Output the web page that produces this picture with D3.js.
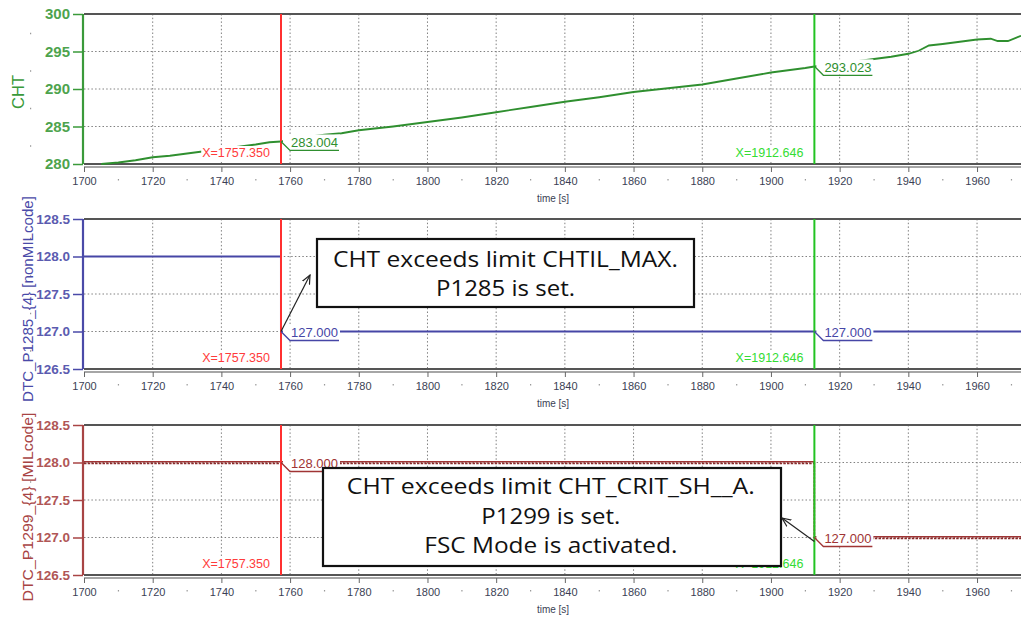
<!DOCTYPE html>
<html><head><meta charset="utf-8">
<script src="https://cdn.jsdelivr.net/npm/d3@7"></script>
<style>
html,body{margin:0;padding:0;background:#fff;}
svg{display:block;}
</style></head>
<body>
<svg id="chart" width="1021" height="619"></svg>
<script>
// ---------- data ----------
const xTicks = [1700,1720,1740,1760,1780,1800,1820,1840,1860,1880,1900,1920,1940,1960];
const chtTicks = [280,285,290,295,300];
const dtcTicks = [126.5,127.0,127.5,128.0,128.5];
const chtTime  = [1705,1710,1715,1720,1725,1730,1735,1740,1745,1750,1754,1757.35,1760,1765,1770,1775,1780,1790,1800,1810,1820,1830,1840,1850,1860,1870,1880,1890,1900,1910,1912.646,1920,1930,1935,1940,1943,1946,1950,1955,1960,1964,1966,1969,1972.8];
const chtValue = [280.0,280.2,280.5,280.9,281.1,281.4,281.7,282.0,282.3,282.6,282.9,283.0,283.3,283.6,283.9,284.1,284.5,285.0,285.6,286.2,286.9,287.6,288.3,288.9,289.6,290.1,290.6,291.4,292.2,292.8,293.0,293.4,294.0,294.3,294.7,295.1,295.8,296.0,296.3,296.6,296.7,296.4,296.4,297.1];
const p1285Time  = [1700,1757.35,1972.8];
const p1285Value = [128,127,127];
const p1299Time  = [1700,1912.646,1972.8];
const p1299Value = [128,127,127];
const cursorTimes  = [1757.350,1912.646];
const cursorLabels = ["X=1757.350","X=1912.646"];
const chtCursorVals   = [283.004,293.023];
const p1285CursorVals = [127.000,127.000];
const p1299CursorVals = [128.000,127.000];
const note1 = ["CHT exceeds limit CHTIL_MAX.","P1285 is set."];
const note2 = ["CHT exceeds limit CHT_CRIT_SH__A.","P1299 is set.","FSC Mode is activated."];

// ---------- layout ----------
const svg = d3.select("#chart");
const W = 1021;
const x = d3.scaleLinear().domain([1700,1972.8]).range([84,W]);
const cursorColors = ["#ff3030","#22c322"];
const cursorTextColors = ["#ff3b3b","#33dd33"];

const panels = [
  {top:14, bottom:164, domain:[280,300], ticks:chtTicks, fmt:d3.format("d"), color:"#3a9a3a", lineColor:"#2f8f2f",
   label:"CHT", labelColor:"#3a9a3a", labelX:24, labelY:92, labelFont:16.5, labelLen:null, tickFont:15,
   time:chtTime, val:chtValue, curve:d3.curveLinear, cvals:chtCursorVals},
  {top:219, bottom:369, domain:[126.5,128.5], ticks:dtcTicks, fmt:d3.format(".1f"), color:"#4a4aa8", lineColor:"#4646a6",
   label:"DTC_P1285_{4} [nonMILcode]", labelColor:"#4a4aa8", labelX:33, labelY:299, labelFont:14, labelLen:206, tickFont:13.5,
   time:p1285Time, val:p1285Value, curve:d3.curveStepAfter, cvals:p1285CursorVals},
  {top:425, bottom:575, domain:[126.5,128.5], ticks:dtcTicks, fmt:d3.format(".1f"), color:"#a84444", lineColor:"#a03434",
   label:"DTC_P1299_{4} [MILcode]", labelColor:"#a84444", labelX:33, labelY:507, labelFont:14, labelLen:189, tickFont:13.5,
   time:p1299Time, val:p1299Value, curve:d3.curveStepAfter, cvals:p1299CursorVals}
];

svg.append("defs").append("marker").attr("id","arr").attr("viewBox","0 0 10 10")
  .attr("refX",9).attr("refY",5).attr("markerWidth",10).attr("markerHeight",10)
  .attr("orient","auto").attr("markerUnits","userSpaceOnUse")
  .append("path").attr("d","M0,1 L9,5 L0,9").attr("fill","none").attr("stroke","#222").attr("stroke-width",1.2);

panels.forEach((p,pi)=>{
  const y = d3.scaleLinear().domain(p.domain).range([p.bottom,p.top]);
  p.y = y;
  const g = svg.append("g");
  // grid
  g.selectAll(".vg").data(xTicks.filter(t=>t>1700)).join("line")
    .attr("x1",d=>x(d)).attr("x2",d=>x(d)).attr("y1",p.top).attr("y2",p.bottom)
    .attr("stroke","#808080").attr("stroke-width",1).attr("stroke-dasharray","1.5,2.2");
  g.selectAll(".hg").data(p.ticks.slice(1,-1)).join("line")
    .attr("x1",84).attr("x2",W).attr("y1",d=>y(d)).attr("y2",d=>y(d))
    .attr("stroke","#808080").attr("stroke-width",1).attr("stroke-dasharray","1.5,2.2");
  // frame
  g.append("line").attr("x1",84).attr("x2",W).attr("y1",p.top).attr("y2",p.top).attr("stroke","#555").attr("stroke-width",2.2);
  g.append("line").attr("x1",84).attr("x2",W).attr("y1",p.bottom).attr("y2",p.bottom).attr("stroke","#555").attr("stroke-width",2);
  g.append("line").attr("x1",84).attr("x2",W).attr("y1",p.bottom+3).attr("y2",p.bottom+3).attr("stroke","#888").attr("stroke-width",1.5);
  // x axis
  const xa = d3.axisBottom(x).tickValues(xTicks).tickSize(5).tickFormat(d3.format("d"));
  const xg = g.append("g").attr("transform",`translate(0,${p.bottom+3})`).call(xa);
  xg.select(".domain").remove();
  xg.selectAll(".tick line").attr("stroke","#666");
  xg.selectAll(".tick text").attr("fill","#3b3f55").attr("font-family","Liberation Sans, Arial, sans-serif")
    .attr("font-size",11).attr("dy","0.85em").attr("y",9);
  // minor dots
  g.selectAll(".md").data(xTicks.map(t=>t+10)).join("rect")
    .attr("x",d=>x(d)-0.5).attr("y",p.bottom+15).attr("width",1.2).attr("height",1.5).attr("fill","#999");
  g.append("text").attr("x",553).attr("y",p.bottom+38).attr("text-anchor","middle")
    .attr("font-family","Liberation Sans, Arial, sans-serif").attr("font-size",10).attr("fill","#3b3f55").text("time [s]");
  // y axis
  const ya = d3.axisLeft(y).tickValues(p.ticks).tickSize(10).tickPadding(3).tickFormat(p.fmt);
  const yg = g.append("g").attr("transform","translate(83,0)").call(ya);
  yg.select(".domain").attr("stroke",p.color).attr("stroke-width",2.2).attr("d",`M0,${p.top}V${p.bottom}`);
  yg.selectAll(".tick line").attr("stroke",p.color).attr("stroke-width",1.5);
  yg.selectAll(".tick text").attr("fill",p.color).attr("font-family","Liberation Sans, Arial, sans-serif")
    .attr("font-size",p.tickFont).attr("font-weight","bold").attr("opacity",0.9);
  g.selectAll(".ymd").data(p.ticks.slice(0,-1).map((t,i)=>(t+p.ticks[i+1])/2)).join("rect")
    .attr("x",30).attr("y",d=>y(d)).attr("width",1.2).attr("height",1.5).attr("fill","#999");
  // axis label
  const lab = g.append("text").attr("transform",`translate(${p.labelX},${p.labelY}) rotate(-90)`).attr("text-anchor","middle")
    .attr("font-family","Liberation Sans, Arial, sans-serif").attr("font-size",p.labelFont).attr("fill",p.labelColor)
    .text(p.label);
  if (p.labelLen) lab.attr("textLength",p.labelLen).attr("lengthAdjust","spacingAndGlyphs");
  // data line
  const line = d3.line().x((d,i)=>x(p.time[i])).y((d,i)=>y(p.val[i])).curve(p.curve);
  if (pi===2){
    g.append("path").datum(p.val).attr("d",line).attr("fill","none").attr("stroke",p.lineColor).attr("stroke-width",1.5)
      .attr("transform","translate(0,-0.7)");
    g.append("path").datum(p.val).attr("d",line).attr("fill","none").attr("stroke","#8a2a2a").attr("stroke-width",1.5)
      .attr("stroke-dasharray","2.5,1.2").attr("transform","translate(0,1)");
  } else {
    g.append("path").datum(p.val).attr("d",line).attr("fill","none").attr("stroke",p.lineColor).attr("stroke-width",pi===0?1.8:2);
  }
  // cursors
  cursorTimes.forEach((ct,ci)=>{
    const cx = x(ct);
    const bg = g.append("rect").attr("fill","#fff");
    const tx = g.append("text").attr("x",cx-11).attr("y",p.bottom-7).attr("text-anchor","end")
      .attr("font-family","Liberation Sans, Arial, sans-serif").attr("font-size",12.5).attr("fill",cursorTextColors[ci])
      .text(cursorLabels[ci]);
    const bb = tx.node().getBBox();
    bg.attr("x",bb.x-1).attr("y",bb.y).attr("width",bb.width+2).attr("height",bb.height);
    g.append("line").attr("x1",cx).attr("x2",cx).attr("y1",p.top).attr("y2",p.bottom).attr("stroke",cursorColors[ci]).attr("stroke-width",2);
    // value tag
    const cy = y(p.cvals[ci]);
    g.append("rect").attr("x",cx+2).attr("y",cy-7).attr("width",57).attr("height",15).attr("fill","#fff");
    g.append("path").attr("d",`M${cx},${cy}L${cx+9},${cy+9}L${cx+58},${cy+9}`).attr("fill","none").attr("stroke",p.lineColor).attr("stroke-width",1.3);
    g.append("text").attr("x",cx+10).attr("y",cy+5.5).attr("font-family","Liberation Sans, Arial, sans-serif")
      .attr("font-size",13).attr("fill",p.lineColor).text(d3.format(".3f")(p.cvals[ci]));
  });
});

// annotation boxes
function note(lines, lens, x0, y0, w, h, cxText, baselines, fs){
  const g = svg.append("g");
  g.append("rect").attr("x",x0).attr("y",y0).attr("width",w).attr("height",h).attr("fill","#fff").attr("stroke","#111").attr("stroke-width",2.2);
  lines.forEach((t,i)=>g.append("text").attr("x",cxText).attr("y",baselines[i]).attr("text-anchor","middle")
    .attr("font-family","Open Sans, sans-serif").attr("font-size",fs).attr("fill","#111")
    .attr("textLength",lens[i]).attr("lengthAdjust","spacingAndGlyphs").text(t));
}
note(note1, [345,139], 317, 239, 377, 68, 505.5, [267,296], 21.5);
note(note2, [408,139,253], 323, 468, 458, 98, 550.8, [494,524,553], 21.5);

// arrows
const p2 = panels[1], p3 = panels[2];
svg.append("line").attr("x1",x(cursorTimes[0])).attr("y1",p2.y(p1285CursorVals[0])).attr("x2",310).attr("y2",275)
  .attr("stroke","#222").attr("stroke-width",1.2).attr("marker-end","url(#arr)");
svg.append("line").attr("x1",x(cursorTimes[1])).attr("y1",p3.y(p1299CursorVals[1])+4).attr("x2",782).attr("y2",518)
  .attr("stroke","#222").attr("stroke-width",1.2).attr("marker-end","url(#arr)");
</script>
</body></html>
